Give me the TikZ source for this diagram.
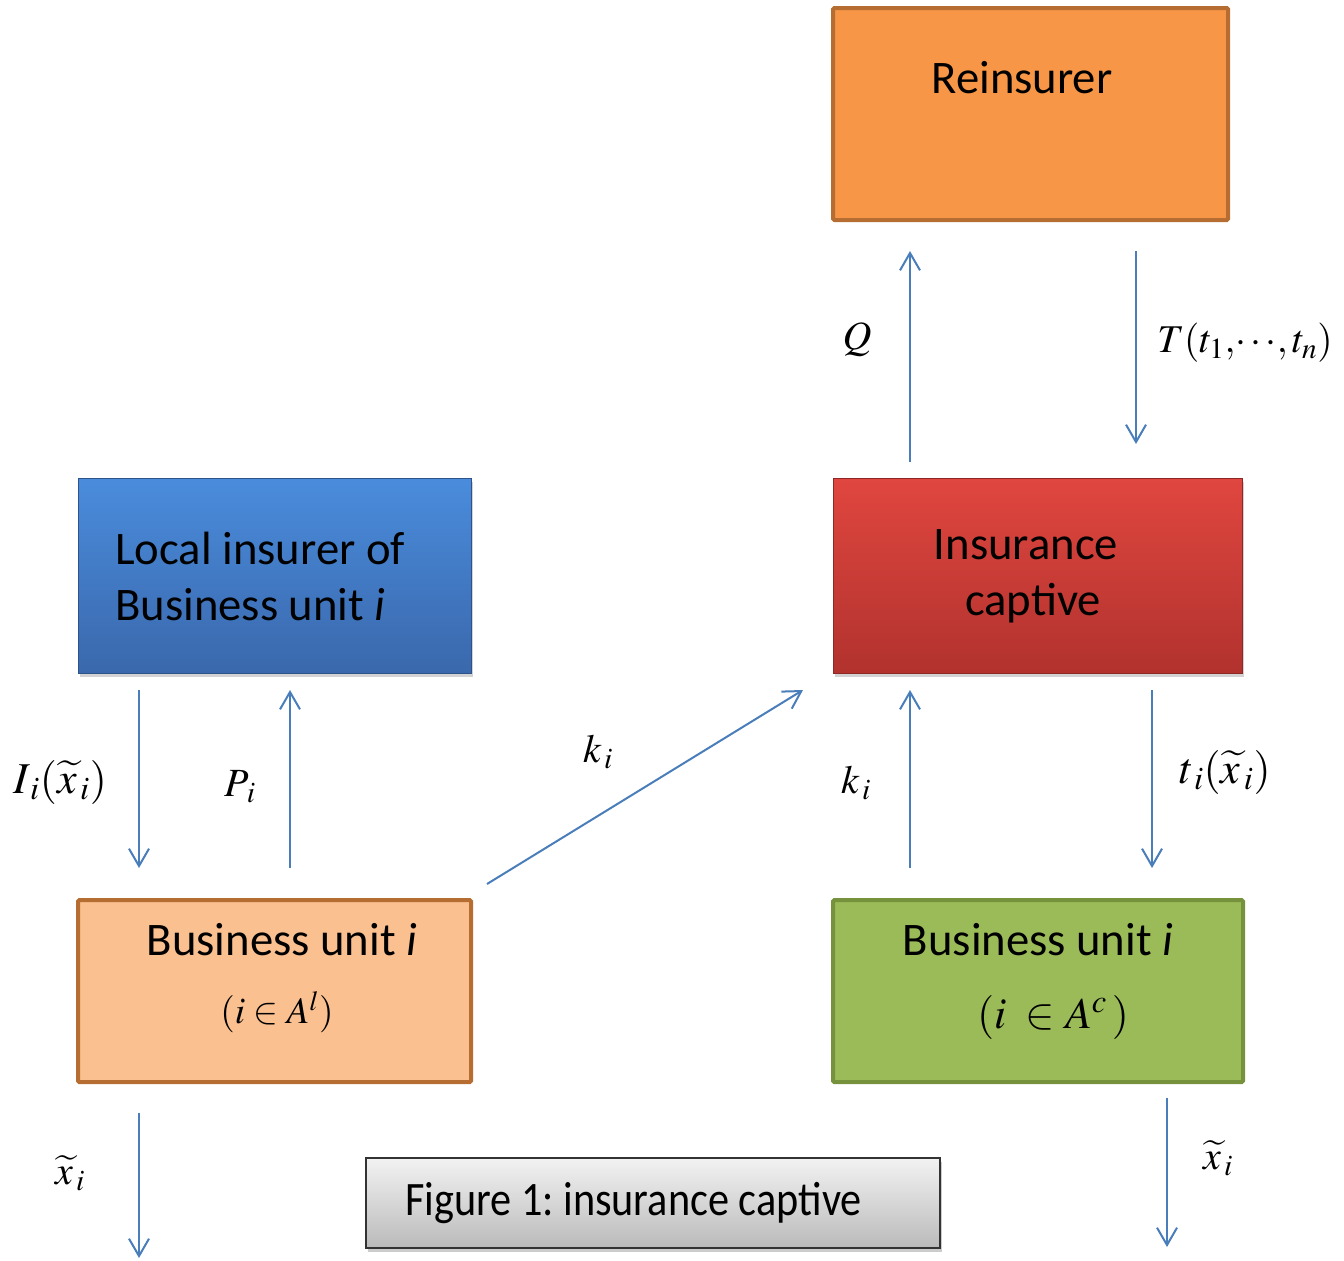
\documentclass[tikz,border=0pt]{standalone}
\usepackage{mathptmx}
\usepackage{fontspec}
\setmainfont{Carlito}
\usetikzlibrary{arrows.meta,shadows,fit}
\frenchspacing
\definecolor{arrowblue}{HTML}{4A7EBB}
\definecolor{orangefill}{HTML}{F79646}
\definecolor{orangeedge}{HTML}{B66D31}
\definecolor{peach}{HTML}{FAC090}
\definecolor{greenfill}{HTML}{9BBB59}
\definecolor{greenedge}{HTML}{76923C}
\definecolor{bluetop}{HTML}{4A8CDC}
\definecolor{bluebot}{HTML}{3A68AC}
\definecolor{redtop}{HTML}{E0463F}
\definecolor{redbot}{HTML}{B2322E}
\tikzset{
  flow/.style={draw=arrowblue, line width=1.5pt, -{Straight Barb[length=13pt, width=15pt, line width=1.5pt]}},
  flatbox/.style={line width=3pt, inner sep=0pt, rounded corners=1pt},
  bevelbox/.style={inner sep=0pt, line width=0.6pt, drop shadow={shadow xshift=1.5pt, shadow yshift=-3pt, opacity=0.35}},
  boxtext/.style={font=\fontsize{35}{42}\selectfont, inner sep=0pt},
  lab/.style={font=\fontsize{30}{36}\selectfont, inner sep=0pt},
  biglab/.style={font=\fontsize{33}{40}\selectfont, inner sep=0pt},
}
\begin{document}
\begin{tikzpicture}[x=0.75pt, y=-0.75pt]
\useasboundingbox (0,0) rectangle (1344,1260);
% boxes
\node[flatbox, draw=orangeedge, fill=orangefill, fit={(833,8) (1228,220)}] (reins) {};
\node[bevelbox, draw=bluebot!80!black, top color=bluetop, bottom color=bluebot, fit={(78,478) (471,673)}] (local) {};
\node[bevelbox, draw=redbot!80!black, top color=redtop, bottom color=redbot, fit={(833,478) (1242,673)}] (captive) {};
\node[flatbox, draw=orangeedge, fill=peach, fit={(78,900) (471,1082)}] (buleft) {};
\node[flatbox, draw=greenedge, fill=greenfill, fit={(833,900) (1243,1082)}] (buright) {};
\node[inner sep=0pt, draw=black!80, line width=1pt, top color=black!5, bottom color=black!27,
      drop shadow={shadow xshift=1.5pt, shadow yshift=-3pt, opacity=0.4},
      fit={(366,1158) (940,1248)}] (figbox) {};
% box texts
\node[boxtext] (reinstext) at (1022,78) {Reinsurer};
\node[boxtext, align=left, anchor=west] (localtext) at (115,576) {Local insurer of\\Business unit \textit{i}};
\node[boxtext, align=center] (captivetext) at (1026,576) {Insurance\\\hspace*{0.3em}captive};
\node[boxtext] (bultext) at (282,940) {Business unit \textit{i}};
\node[boxtext] (burtext) at (1038,940) {Business unit \textit{i}};
\node[font=\fontsize{28}{34}\selectfont, inner sep=0pt] (bulmath) at (277,1012) {$(i\in A^{l})$};
\node[font=\fontsize{33}{40}\selectfont, inner sep=0pt] (burmath) at (1053,1017) {$(i\;\in A^{c}\,)$};
\node[font=\fontsize{36}{42}\selectfont, inner sep=0pt, anchor=west] (figtext) at (405,1203) {\scalebox{0.88}[1]{Figure 1: insurance captive}};
% arrow end points
\coordinate (a1s) at (139,690);  \coordinate (a1e) at (139,868);
\coordinate (a2s) at (290,868);  \coordinate (a2e) at (290,690);
\coordinate (a3s) at (487,884);  \coordinate (a3e) at (803,690);
\coordinate (a4s) at (910,462);  \coordinate (a4e) at (910,251);
\coordinate (a5s) at (1136,251); \coordinate (a5e) at (1136,444);
\coordinate (a6s) at (910,868);  \coordinate (a6e) at (910,690);
\coordinate (a7s) at (1152,690); \coordinate (a7e) at (1152,868);
\coordinate (a8s) at (139,1113); \coordinate (a8e) at (139,1258);
\coordinate (a9s) at (1167,1098); \coordinate (a9e) at (1167,1247);
\draw[flow] (a1s) -- (a1e);
\draw[flow] (a2s) -- (a2e);
\draw[flow] (a3s) -- (a3e);
\draw[flow] (a4s) -- (a4e);
\draw[flow] (a5s) -- (a5e);
\draw[flow] (a6s) -- (a6e);
\draw[flow] (a7s) -- (a7e);
\draw[flow] (a8s) -- (a8e);
\draw[flow] (a9s) -- (a9e);
% labels
\node[biglab] (lI) at (60,782) {$I_{\,i}(\widetilde{x}_{\,i})$};
\node[lab] (lP) at (240,787) {$P_{\,i}$};
\node[lab] (lk1) at (598,752) {$k_{\,i}$};
\node[lab] (lQ) at (857,340) {$Q$};
\node[font=\fontsize{29.5}{36}\selectfont, inner sep=0pt, anchor=west] (lT) at (1157,343) {$T(t_{1},\!\cdots\!,t_{n})$};
\node[lab] (lk2) at (856,783) {$k_{\,i}$};
\node[biglab] (lt) at (1225,772) {$t_{\,i}(\widetilde{x}_{\,i})$};
\node[lab] (lx1) at (70,1173) {$\widetilde{x}_{\,i}$};
\node[lab] (lx2) at (1218,1158) {$\widetilde{x}_{\,i}$};
\end{tikzpicture}
\end{document}
